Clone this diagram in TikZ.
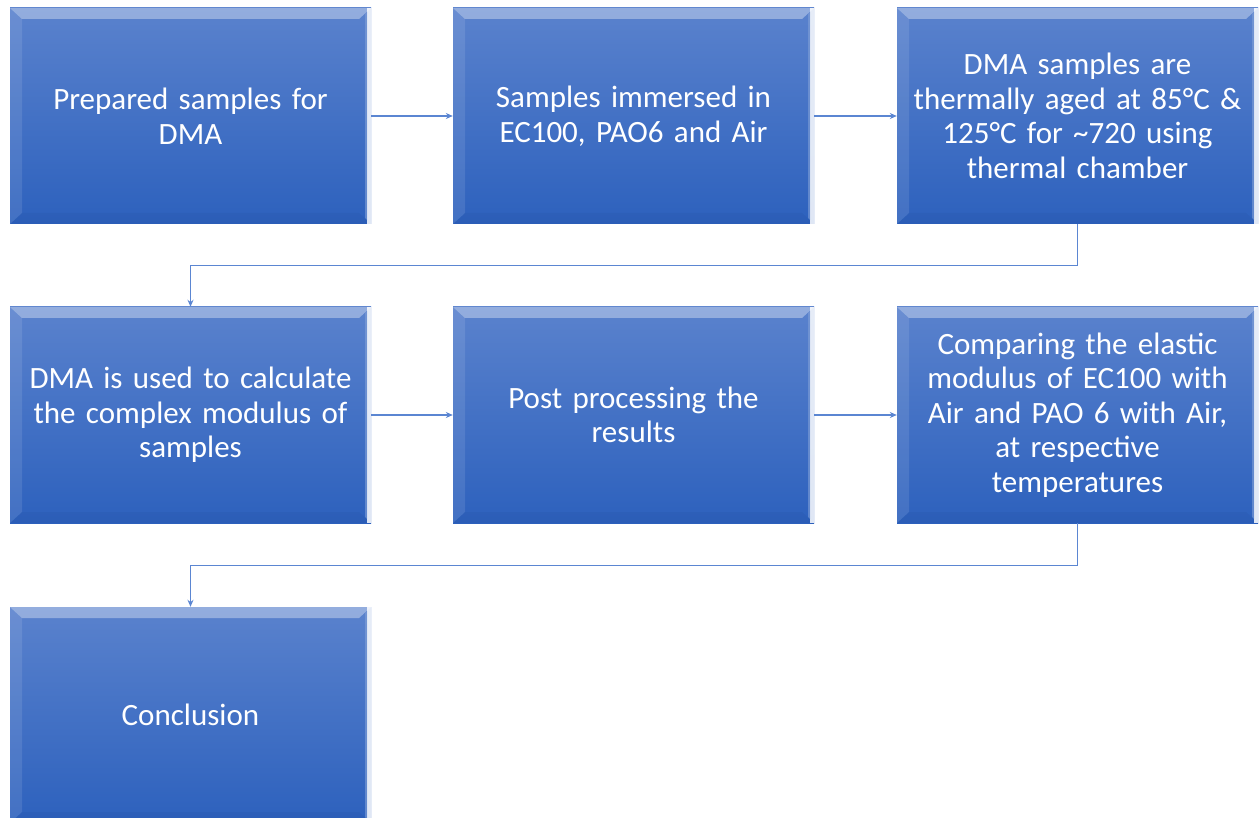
\documentclass[tikz,border=0pt]{standalone}
\usepackage{fontspec}
\setmainfont{Carlito}
\usetikzlibrary{arrows.meta,calc}
\definecolor{boxtop}{HTML}{5A82CD}
\definecolor{boxbot}{HTML}{2D61BD}
\definecolor{conn}{HTML}{5B86D2}
\tikzset{
  flowbox/.style={rectangle, minimum width=361pt, minimum height=216pt, inner sep=0pt,
    text width=350pt, align=center, text=white, font=\fontsize{31}{34.5}\selectfont,
    top color=boxtop, bottom color=boxbot,
    path picture={
      \coordinate (nw) at (path picture bounding box.north west);
      \coordinate (ne) at (path picture bounding box.north east);
      \coordinate (sw) at (path picture bounding box.south west);
      \coordinate (se) at (path picture bounding box.south east);
      \fill[white,opacity=0.35] (nw) -- (ne) -- ([shift={(-12pt,-11pt)}]ne) -- ([shift={(12pt,-11pt)}]nw) -- cycle;
      \fill[white,opacity=0.10] (nw) -- ([shift={(12pt,-11pt)}]nw) -- ([shift={(12pt,11pt)}]sw) -- (sw) -- cycle;
      \fill[black,opacity=0.03] (sw) -- ([shift={(12pt,11pt)}]sw) -- ([shift={(-12pt,11pt)}]se) -- (se) -- cycle;
      \fill[white,opacity=0.85] ([xshift=-4pt]ne) -- (ne) -- (se) -- ([xshift=-4pt]se) -- cycle;
      \fill[boxbot!60!white,opacity=0.6] ([xshift=-6pt,yshift=-6pt]ne) -- ([xshift=-4pt,yshift=-4pt]ne) -- ([xshift=-4pt,yshift=4pt]se) -- ([xshift=-6pt,yshift=6pt]se) -- cycle;
    }},
  conn/.style={draw=conn, line width=1.2pt, -{Stealth[length=7pt,width=6pt]}}
}
\begin{document}
\begin{tikzpicture}
\useasboundingbox (0pt,0pt) rectangle (1259pt,-818pt);
\node[flowbox] (n1) at (190.5pt,-116pt) {Prepared samples for\\DMA};
\node[flowbox] (n2) at (633.5pt,-116pt) {Samples immersed in\\EC100, PAO6 and Air};
\node[flowbox] (n3) at (1077.5pt,-116pt) {DMA samples are\\thermally aged at 85°C \&\\125°C for \textasciitilde720 using\\thermal chamber};
\node[flowbox] (n4) at (190.5pt,-415pt) {DMA is used to calculate\\the complex modulus of\\samples};
\node[flowbox] (n5) at (633.5pt,-415pt) {Post processing the\\results};
\node[flowbox] (n6) at (1077.5pt,-415pt) {Comparing the elastic\\modulus of EC100 with\\Air and PAO 6 with Air,\\at respective\\temperatures};
\node[flowbox] (n7) at (190.5pt,-715pt) {Conclusion};
\draw[conn] (n1) -- (n2);
\draw[conn] (n2) -- (n3);
\draw[conn] (n4) -- (n5);
\draw[conn] (n5) -- (n6);
\draw[conn] (n3.south) |- ([yshift=41pt]n4.north) -- (n4.north);
\draw[conn] (n6.south) |- ([yshift=41pt]n7.north) -- (n7.north);
\end{tikzpicture}
\end{document}
